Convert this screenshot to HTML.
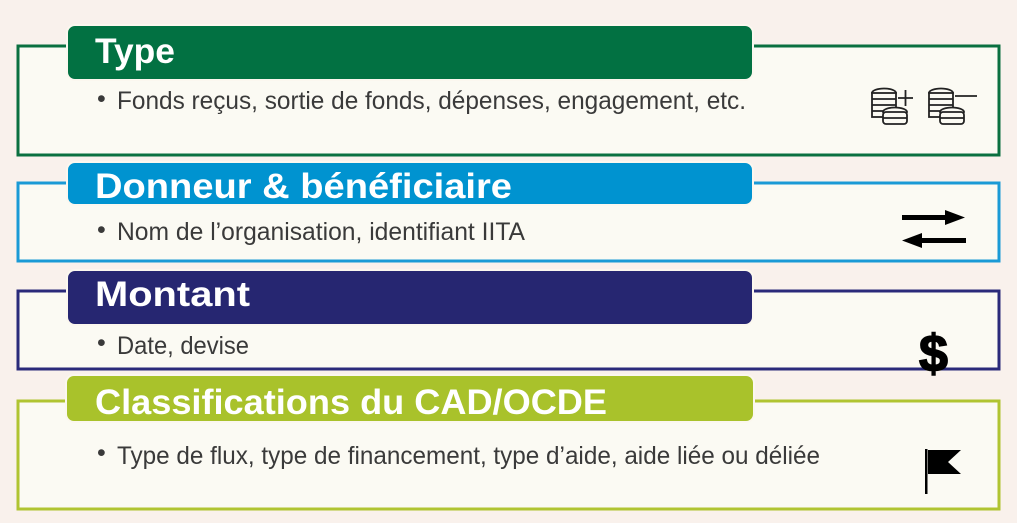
<!DOCTYPE html>
<html><head><meta charset="utf-8"><style>
html,body{margin:0;padding:0;background:#f9f1ec;}
svg{display:block;font-family:"Liberation Sans",sans-serif;}
.h{font-weight:bold;fill:#fff;font-size:35px;}
.b{fill:#3a3a3a;font-size:25px;}
</style></head><body>
<svg width="1017" height="523" viewBox="0 0 1017 523">
<rect width="1017" height="523" fill="#f9f1ec"/>
<g>
<rect x="18" y="46" width="981" height="109" fill="#fbfaf3" stroke="#0a7040" stroke-width="3"/>
<rect x="67" y="25" width="686" height="55" rx="8" fill="#027142" stroke="#fbf7ef" stroke-width="2"/>
<text x="95" y="63" class="h" textLength="80" lengthAdjust="spacingAndGlyphs">Type</text>
<text x="97" y="107" class="b" font-size="20">•</text>
<text x="117" y="109" class="b" textLength="629" lengthAdjust="spacingAndGlyphs">Fonds reçus, sortie de fonds, dépenses, engagement, etc.</text>
<g fill="#fbfaf3" stroke="#222" stroke-width="1.8">
<ellipse cx="884" cy="93" rx="12" ry="4.5"/><rect x="872" y="93" width="24" height="24"/>
<path d="M872 99 h24 M872 105 h24 M872 111 h24" fill="none"/>
<ellipse cx="895" cy="112" rx="12" ry="4.5"/><rect x="883" y="112" width="24" height="12" rx="3"/><path d="M883 118 h24" fill="none"/>
<path d="M898 98 h15 M905.5 90 v16" fill="none"/>
<ellipse cx="941" cy="93" rx="12" ry="4.5"/><rect x="929" y="93" width="24" height="24"/>
<path d="M929 99 h24 M929 105 h24 M929 111 h24" fill="none"/>
<ellipse cx="952" cy="112" rx="12" ry="4.5"/><rect x="940" y="112" width="24" height="12" rx="3"/><path d="M940 118 h24" fill="none"/>
<path d="M955 96 h22" fill="none"/>
</g>
</g>
<g>
<rect x="18" y="183" width="981" height="78" fill="#fbfaf3" stroke="#1a9ad6" stroke-width="3"/>
<rect x="67" y="162" width="686" height="43" rx="8" fill="#0093d0" stroke="#fbf7ef" stroke-width="2"/>
<text x="95" y="198" class="h" textLength="417" lengthAdjust="spacingAndGlyphs">Donneur &amp; bénéficiaire</text>
<text x="97" y="238" class="b" font-size="20">•</text>
<text x="117" y="240" class="b" textLength="408" lengthAdjust="spacingAndGlyphs">Nom de l’organisation, identifiant IITA</text>
<g fill="#000">
<rect x="902" y="215" width="45" height="5"/><polygon points="945,210 965,217.5 945,225"/>
<rect x="920" y="238" width="46" height="5"/><polygon points="922,233 902,240.5 922,248"/>
</g>
</g>
<g>
<rect x="18" y="291" width="981" height="78" fill="#fbfaf3" stroke="#2a2a7a" stroke-width="3"/>
<rect x="67" y="270" width="686" height="55" rx="8" fill="#262671" stroke="#fbf7ef" stroke-width="2"/>
<text x="95" y="306" class="h" textLength="155" lengthAdjust="spacingAndGlyphs">Montant</text>
<text x="97" y="351" class="b" font-size="20">•</text>
<text x="117" y="354" class="b" textLength="132" lengthAdjust="spacingAndGlyphs">Date, devise</text>
<text x="919" y="371" font-size="52" font-weight="bold" fill="#000" stroke="#000" stroke-width="1.5">$</text>
</g>
<g>
<rect x="18" y="401" width="981" height="108" fill="#fbfaf3" stroke="#b0c431" stroke-width="3"/>
<rect x="66" y="375" width="688" height="47" rx="8" fill="#a9c22b" stroke="#fbf7ef" stroke-width="2"/>
<text x="95" y="414" class="h" textLength="512" lengthAdjust="spacingAndGlyphs">Classifications du CAD/OCDE</text>
<text x="97" y="461" class="b" font-size="20">•</text>
<text x="117" y="464" class="b" textLength="703" lengthAdjust="spacingAndGlyphs">Type de flux, type de financement, type d’aide, aide liée ou déliée</text>
<g>
<rect x="925" y="449" width="2.5" height="45" fill="#000"/>
<polygon points="928,450 961,450 948,462 961,474 928,474" fill="#000"/>
</g>
</g>
</svg>
</body></html>
